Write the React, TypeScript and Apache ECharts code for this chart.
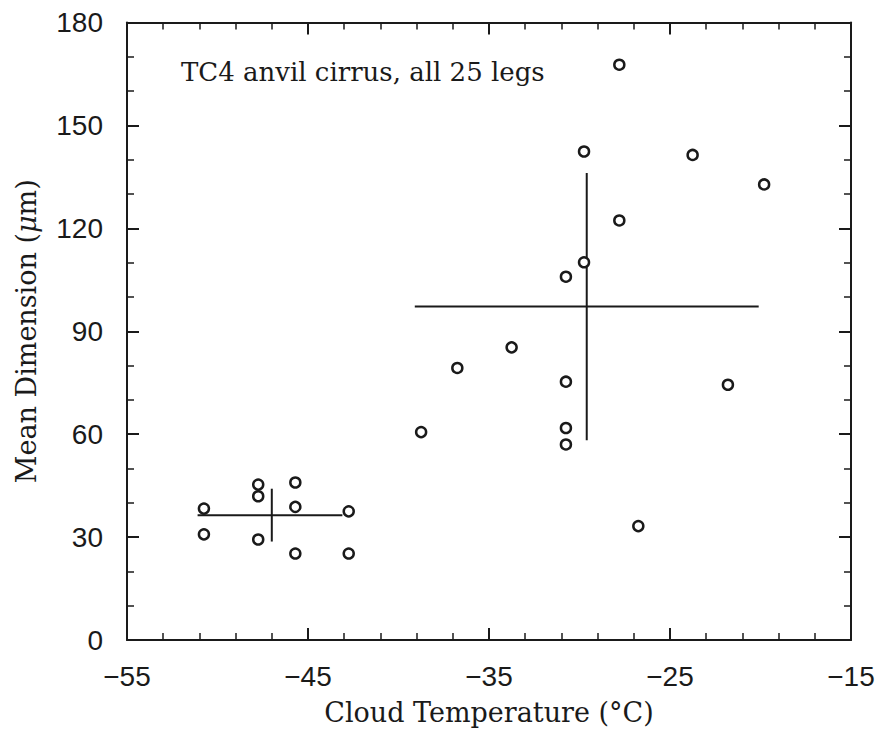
import React, { useEffect, useRef } from "react";
import * as echarts from "echarts";

// Cold group (approx. -51 .. -43 °C)
const coldTemp = [-50.75, -50.75, -47.75, -47.75, -47.75, -45.7, -45.7, -45.7, -42.75, -42.75];
const coldDim = [38.3, 30.8, 45.3, 41.9, 29.3, 45.9, 38.8, 25.2, 37.5, 25.2];

// Warm group (approx. -39 .. -20 °C)
const warmTemp = [-29.75, -27.8, -29.75, -30.75, -33.75, -36.75, -30.75, -38.75, -30.75, -30.75, -27.8, -23.75, -19.8, -21.8, -26.75];
const warmDim = [142.4, 122.3, 110.1, 105.9, 85.3, 79.3, 75.3, 60.6, 61.8, 57.0, 167.7, 141.4, 132.8, 74.4, 33.2];

// Mean ± spread crosses: [cold, warm]
const crossT = [-47.0, -29.6];
const crossD = [36.4, 97.2];
const crossTMin = [-51.1, -39.1];
const crossTMax = [-43.1, -20.1];
const crossDMin = [28.7, 58.2];
const crossDMax = [44.1, 136.1];

const xTicks = { min: -55, max: -15, interval: 10 };
const yTicks = { min: 0, max: 180, interval: 30 };

const annotation = "TC4 anvil cirrus, all 25 legs";
const xTitle = "Cloud Temperature (°C)";

const INK = "#1a1a1a";
const SANS = "'Liberation Sans', Arial, sans-serif";
const SERIF = "'DejaVu Serif', 'Liberation Serif', serif";

export default function App() {
  const ref = useRef<HTMLDivElement>(null);
  useEffect(() => {
    if (!ref.current) return;
    const chart = echarts.init(ref.current, null, { renderer: "svg" });

    const axisCommon = (showLabel: boolean) => ({
      axisLine: { show: true, onZero: false, lineStyle: { color: INK, width: 2 } },
      axisTick: { show: true, inside: true, length: 12, lineStyle: { color: INK, width: 2 } },
      splitLine: { show: false },
      axisLabel: {
        show: showLabel,
        color: INK,
        fontFamily: SANS,
        fontSize: 28,
        formatter: (v: number) => String(v).replace("-", "\u2212"),
      },
    });

    const crossSeries: any[] = [];
    for (let i = 0; i < crossT.length; i++) {
      crossSeries.push({
        type: "line",
        data: [[crossTMin[i], crossD[i]], [crossTMax[i], crossD[i]]],
        symbol: "none",
        lineStyle: { color: INK, width: 2 },
        z: 2,
      });
      crossSeries.push({
        type: "line",
        data: [[crossT[i], crossDMin[i]], [crossT[i], crossDMax[i]]],
        symbol: "none",
        lineStyle: { color: INK, width: 2 },
        z: 2,
      });
    }

    const points = [
      ...coldTemp.map((t, i) => [t, coldDim[i]]),
      ...warmTemp.map((t, i) => [t, warmDim[i]]),
    ];

    const xMinor = { show: true, splitNumber: 5, length: 7, lineStyle: { color: INK, width: 1.5 } };
    const yMinor = { show: true, splitNumber: 3, length: 7, lineStyle: { color: INK, width: 1.5 } };

    chart.setOption({
      animation: false,
      backgroundColor: "#ffffff",
      grid: { left: 127, top: 22.5, width: 724, height: 619, containLabel: false },
      xAxis: [
        {
          type: "value",
          position: "bottom",
          ...xTicks,
          ...axisCommon(true),
          minorTick: xMinor,
          axisLabel: { ...axisCommon(true).axisLabel, margin: 22 },
          name: xTitle,
          nameLocation: "middle",
          nameGap: 59,
          nameTextStyle: { color: INK, fontFamily: SERIF, fontSize: 27 },
        },
        {
          type: "value",
          position: "top",
          ...xTicks,
          ...axisCommon(false),
          minorTick: xMinor,
        },
      ],
      yAxis: [
        {
          type: "value",
          position: "left",
          ...yTicks,
          ...axisCommon(true),
          minorTick: yMinor,
          axisLabel: { ...axisCommon(true).axisLabel, margin: 24 },
          name: "Mean Dimension ({i|\u03bc}m)",
          nameLocation: "middle",
          nameGap: 87,
          nameRotate: 90,
          nameTextStyle: {
            color: INK,
            fontFamily: SERIF,
            fontSize: 27,
            rich: { i: { fontFamily: SERIF, fontStyle: "italic", fontSize: 27, color: INK } },
          },
        },
        {
          type: "value",
          position: "right",
          ...yTicks,
          ...axisCommon(false),
          minorTick: yMinor,
        },
      ],
      graphic: [
        {
          type: "text",
          left: 181,
          top: 59,
          style: { text: annotation, fill: INK, font: `26px ${SERIF}` },
        },
      ],
      series: [
        ...crossSeries,
        {
          type: "scatter",
          data: points,
          symbol: "circle",
          symbolSize: 10,
          itemStyle: { color: "#ffffff", borderColor: INK, borderWidth: 2.5, opacity: 1 },
          z: 3,
        },
      ],
    });
    return () => chart.dispose();
  }, []);

  return (
    <div
      ref={ref}
      style={{ position: "fixed", left: 0, top: 0, width: 881, height: 731, background: "#fff" }}
    />
  );
}
